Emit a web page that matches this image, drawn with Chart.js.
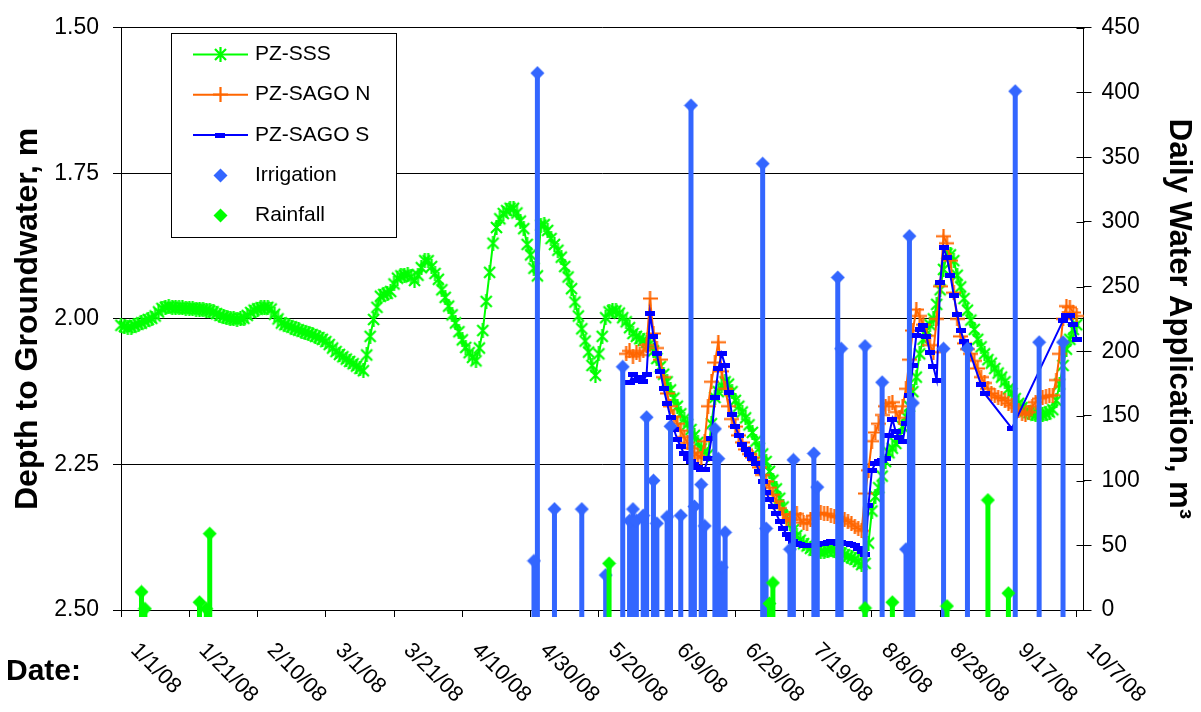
<!DOCTYPE html>
<html>
<head>
<meta charset="utf-8">
<script src="https://cdn.jsdelivr.net/npm/chart.js@4.4.1/dist/chart.umd.min.js"></script>
<style>
html,body{margin:0;padding:0;background:#fff;}
#wrap{width:1201px;height:712px;}
</style>
</head>
<body>
<div id="wrap"><canvas id="c" width="1201" height="712"></canvas></div>
<script>
// ---------------- DATA ----------------
// x values are day numbers counted from 1/1/08 (day 0)
const TICK_DAYS = [0,20,40,60,80,100,120,140,160,180,200,220,240,260,280];
const TICK_LABELS = ['1/1/08','1/21/08','2/10/08','3/1/08','3/21/08','4/10/08','4/30/08','5/20/08','6/9/08','6/29/08','7/19/08','8/8/08','8/28/08','9/17/08','10/7/08'];
const DEPTH_TICKS = [1.50,1.75,2.00,2.25,2.50];
const WATER_TICKS = [0,50,100,150,200,250,300,350,400,450];

// PZ-SSS daily depth (m), first value on day 0
const SSS_START = 0;
const SSS = [
2.011,2.013,2.015,2.014,2.011,2.009,2.007,2.004,2.001,1.999,
1.995,1.988,1.982,1.980,1.979,1.980,1.981,1.981,1.981,1.982,
1.982,1.982,1.983,1.983,1.984,1.985,1.986,1.988,1.991,1.994,
1.996,1.998,1.999,2.000,2.001,2.000,1.999,1.994,1.989,1.985,
1.983,1.981,1.980,1.980,1.983,1.992,2.000,2.007,2.010,2.012,
2.014,2.017,2.019,2.021,2.023,2.025,2.027,2.030,2.032,2.035,
2.039,2.044,2.050,2.056,2.061,2.065,2.069,2.073,2.077,2.081,
2.085,2.089,2.062,2.030,2.001,1.980,1.961,1.958,1.956,1.953,
1.940,1.930,1.926,1.925,1.924,1.928,1.934,1.925,1.912,1.900,
1.900,1.910,1.922,1.932,1.950,1.963,1.978,1.993,2.007,2.022,
2.036,2.049,2.058,2.066,2.072,2.050,2.020,1.970,1.920,1.870,
1.843,1.828,1.819,1.814,1.810,1.810,1.818,1.832,1.845,1.872,
1.890,1.913,1.926,1.839,1.838,1.848,1.862,1.872,1.882,1.894,
1.910,1.928,1.948,1.971,1.995,2.017,2.038,2.057,2.080,2.097,
2.060,2.030,1.998,1.988,1.986,1.986,1.990,1.998,2.005,2.015,
2.025,2.030,2.034,2.037,2.040,2.043,2.055,2.068,2.082,2.095,
2.108,2.122,2.136,2.150,2.163,2.172,2.181,2.190,2.200,2.212,
2.223,2.228,2.233,2.180,2.135,2.125,2.115,2.108,2.112,2.125,
2.140,2.150,2.160,2.170,2.182,2.195,2.210,2.222,2.232,2.245,
2.262,2.277,2.292,2.308,2.323,2.339,2.352,2.362,2.372,2.380,
2.386,2.390,2.394,2.397,2.398,2.400,2.400,2.398,2.396,2.398,
2.400,2.402,2.405,2.408,2.410,2.413,2.417,2.422,2.420,2.385,
2.330,2.305,2.290,2.270,2.245,2.230,2.222,2.214,2.200,2.185,
2.168,2.150,2.125,2.100,2.060,2.035,2.020,2.010,2.000,1.975,
1.950,1.915,1.888,1.890,1.900,1.925,1.945,1.965,1.985,2.002,
2.018,2.035,2.048,2.060,2.070,2.076,2.085,2.093,2.100,2.108,
2.120,2.128,2.137,2.145,2.152,2.158,2.161,2.163,2.165,2.165,
2.165,2.163,2.160,2.156,2.140,2.112,2.080,2.052,2.035,2.018,2.010
];

// PZ-SAGO N daily depth (m), first value on day 148
const SAGO_N_START = 148;
const SAGO_N = [
2.060,2.055,2.065,2.058,2.062,2.055,2.045,1.965,2.025,2.050,
2.070,2.100,2.128,2.150,2.168,2.180,2.192,2.203,2.213,2.222,
2.230,2.235,2.239,2.210,2.150,2.108,2.075,2.040,2.090,2.120,
2.150,2.172,2.185,2.200,2.212,2.224,2.232,2.238,2.244,2.255,
2.268,2.279,2.290,2.302,2.313,2.325,2.336,2.347,2.342,2.336,
2.335,2.345,2.350,2.352,2.345,2.338,2.335,2.333,2.335,2.335,
2.338,2.340,2.340,2.342,2.345,2.348,2.352,2.356,2.360,2.364,
2.300,2.260,2.210,2.195,2.180,2.165,2.150,2.145,2.143,2.160,
2.170,2.150,2.120,2.070,2.020,1.984,1.995,2.010,2.029,2.045,
2.057,2.000,1.944,1.858,1.870,1.900,1.955,2.000,2.030,2.042,
2.052,2.060,2.072,2.085,2.100,2.110,2.120,2.128,2.132,2.135,
2.137,2.140,2.145,2.149,2.153,2.158,2.162,2.165,2.160,2.150,
2.143,2.137,2.135,2.133,2.132,2.131,2.105,2.060,2.000,1.978,
1.980,1.989,1.995
];

// PZ-SAGO S daily depth (m), first value on day 149 (null = no reading)
const SAGO_S_START = 149;
const SAGO_S = [
2.110,2.095,2.105,2.100,2.108,2.095,1.990,2.030,2.060,2.090,
2.120,2.145,2.170,2.190,2.207,2.220,2.232,2.240,2.245,2.250,
2.255,2.258,2.258,2.240,2.205,2.135,2.086,2.060,2.080,2.126,
2.165,2.185,2.200,2.215,2.225,2.233,2.240,2.248,2.262,2.280,
2.298,2.310,2.322,2.335,2.348,2.360,2.370,2.377,2.382,2.385,
2.387,2.389,2.390,2.390,2.390,2.388,2.386,2.385,2.384,2.383,
2.384,2.385,2.384,2.385,2.386,2.388,2.390,2.395,2.400,2.405,
2.320,2.260,2.248,2.245,2.243,2.240,2.200,2.172,2.194,2.203,
2.211,2.180,2.131,2.080,2.029,2.018,2.011,2.030,2.058,2.082,
2.105,1.938,1.878,1.895,1.925,1.960,1.992,2.020,2.038,2.046,
null,null,null,2.113,2.128,null,null,null,null,null,
null,null,2.188,null,null,null,null,null,null,null,
null,null,null,null,null,null,null,2.003,1.995,1.995,
2.009,2.035
];

// Irrigation (m3 per day)
const IRR_DAYS = [121,122,127,135,142,147,149,150,151,153,154,156,157,160,161,164,167,168,170,171,174,175,176,177,188,189,196,197,203,204,210,211,218,223,230,231,232,241,248,262,269,276];
const IRR_M3   = [38,415,78,78,27,188,69,78,69,73,149,100,67,72,142,73,390,80,97,65,140,117,33,60,345,63,47,116,121,95,257,202,204,176,47,289,160,202,202,401,207,207];

// Rainfall (m3 per day)
const RAIN_DAYS = [6,7,23,25,26,143,190,191,218,226,242,254,260];
const RAIN_M3   = [14,1,6,1,59,36,5,21,1.5,6,3,85,13];

// ---------------- STYLE ----------------
const FONT = '"Liberation Sans", Arial, Helvetica, sans-serif';
const C_SSS = '#00FF00', C_N = '#FF6600', C_S = '#0000FF', C_IRR = '#3366FF', C_RAIN = '#00FF00';
const STEM_BASE = -5.5;   // stems run slightly below the axis, as in the original

function marker(kind, color){
  const c = document.createElement('canvas');
  let w, h;
  if (kind === 'star'){ w = h = 15; }
  else if (kind === 'plus'){ w = h = 15; }
  else if (kind === 'dash'){ w = 10; h = 5; }
  else { w = h = 15; }
  c.width = w; c.height = h;
  const g = c.getContext('2d');
  g.strokeStyle = color; g.fillStyle = color;
  if (kind === 'star'){
    g.lineWidth = 2.2; g.beginPath();
    g.moveTo(2,2); g.lineTo(13,13); g.moveTo(13,2); g.lineTo(2,13);
    g.moveTo(7.5,0); g.lineTo(7.5,15); g.stroke();
  } else if (kind === 'plus'){
    g.lineWidth = 2.2; g.beginPath();
    g.moveTo(0,7.5); g.lineTo(15,7.5); g.moveTo(7.5,0); g.lineTo(7.5,15); g.stroke();
  } else if (kind === 'dash'){
    g.fillRect(0,0,w,h);
  } else {
    g.beginPath(); g.moveTo(7.5,0.5); g.lineTo(14.5,7.5); g.lineTo(7.5,14.5); g.lineTo(0.5,7.5); g.closePath(); g.fill();
  }
  return c;
}
const M_STAR = marker('star', C_SSS), M_PLUS = marker('plus', C_N), M_DASH = marker('dash', C_S);
const M_IRR = marker('diamond', C_IRR), M_RAIN = marker('diamond', C_RAIN);

const daily = (start, arr) => arr.map((v,i) => ({x: start + i, y: v}));
const points = (days, vals) => days.map((d,i) => ({x: d, y: vals[i]}));
const stems = (days, vals) => {
  const out = [];
  days.forEach((d,i) => { out.push({x:d, y:STEM_BASE}, {x:d, y:vals[i]}, {x:d, y:null}); });
  return out;
};

const datasets = [
  {label:'Rainfall', data: points(RAIN_DAYS, RAIN_M3), yAxisID:'y2', showLine:false, pointStyle:M_RAIN, pointRadius:7, clip:false},
  {label:'Rainfall stems', data: stems(RAIN_DAYS, RAIN_M3), yAxisID:'y2', borderColor:C_RAIN, borderWidth:5, pointRadius:0, spanGaps:false, clip:false, borderCapStyle:'butt'},
  {label:'Irrigation', data: points(IRR_DAYS, IRR_M3), yAxisID:'y2', showLine:false, pointStyle:M_IRR, pointRadius:7, clip:false},
  {label:'Irrigation stems', data: stems(IRR_DAYS, IRR_M3), yAxisID:'y2', borderColor:C_IRR, borderWidth:5, pointRadius:0, spanGaps:false, clip:false, borderCapStyle:'butt'},
  {label:'PZ-SAGO S', data: daily(SAGO_S_START, SAGO_S), yAxisID:'y', borderColor:C_S, borderWidth:2, pointStyle:M_DASH, pointRadius:4, spanGaps:true, clip:false},
  {label:'PZ-SAGO N', data: daily(SAGO_N_START, SAGO_N), yAxisID:'y', borderColor:C_N, borderWidth:2, pointStyle:M_PLUS, pointRadius:6, clip:false},
  {label:'PZ-SSS', data: daily(SSS_START, SSS), yAxisID:'y', borderColor:C_SSS, borderWidth:2, pointStyle:M_STAR, pointRadius:6, clip:false}
];

const LEGEND = [
  {label:'PZ-SSS', color:C_SSS, line:true, img:M_STAR},
  {label:'PZ-SAGO N', color:C_N, line:true, img:M_PLUS},
  {label:'PZ-SAGO S', color:C_S, line:true, img:M_DASH},
  {label:'Irrigation', color:C_IRR, line:false, img:M_IRR},
  {label:'Rainfall', color:C_RAIN, line:false, img:M_RAIN}
];

const decor = {
  id: 'decor',
  beforeDraw(chart){
    const ctx = chart.ctx;
    ctx.save(); ctx.fillStyle = '#fff'; ctx.fillRect(0,0,chart.width,chart.height); ctx.restore();
  },
  afterDraw(chart){
    const {ctx, chartArea, scales} = chart;
    ctx.save();
    // rotated date labels
    ctx.fillStyle = '#000';
    ctx.font = '22px ' + FONT;
    ctx.textAlign = 'left'; ctx.textBaseline = 'middle';
    TICK_DAYS.forEach((d,i) => {
      const px = scales.x.getPixelForValue(d);
      ctx.save(); ctx.translate(px + 13, 647); ctx.rotate(Math.PI/4);
      ctx.fillText(TICK_LABELS[i], 0, 0); ctx.restore();
    });
    // "Date:" label
    ctx.font = 'bold 30px ' + FONT; ctx.textBaseline = 'alphabetic';
    ctx.fillText('Date:', 6, 680);
    // inner tick marks of right axis
    ctx.strokeStyle = '#000'; ctx.lineWidth = 1;
    const xr = Math.round(chartArea.right) + 0.5;
    WATER_TICKS.forEach(v => {
      const py = Math.round(scales.y2.getPixelForValue(v)) + 0.5;
      ctx.beginPath(); ctx.moveTo(xr - 8, py); ctx.lineTo(xr, py); ctx.stroke();
    });
    // legend
    ctx.fillStyle = '#fff'; ctx.fillRect(171, 33, 225, 204);
    ctx.strokeStyle = '#000'; ctx.lineWidth = 1; ctx.strokeRect(171.5, 33.5, 225, 204);
    ctx.font = '21px ' + FONT; ctx.textBaseline = 'alphabetic'; ctx.textAlign = 'left';
    LEGEND.forEach((e,i) => {
      const base = 60 + i * 40.25;
      const my = base - 5.5;
      if (e.line){
        ctx.strokeStyle = e.color; ctx.lineWidth = 2;
        ctx.beginPath(); ctx.moveTo(193, my); ctx.lineTo(248, my); ctx.stroke();
      }
      ctx.drawImage(e.img, Math.round(220 - e.img.width/2), Math.round(my - e.img.height/2));
      ctx.fillStyle = '#000'; ctx.fillText(e.label, 255, base);
    });
    ctx.restore();
  }
};

Chart.defaults.font.family = FONT;
Chart.defaults.color = '#000';

new Chart(document.getElementById('c').getContext('2d'), {
  type: 'line',
  data: { datasets },
  options: {
    responsive: false,
    animation: false,
    devicePixelRatio: 1,
    layout: { padding: { top: 23, left: 0, right: 0, bottom: 0 } },
    plugins: { legend: { display: false }, tooltip: { enabled: false } },
    elements: { line: { tension: 0 } },
    scales: {
      x: {
        type: 'linear', min: 0, max: 282,
        afterBuildTicks: s => { s.ticks = TICK_DAYS.map(v => ({value: v})); },
        afterFit: s => { s.height = 102; },
        ticks: { display: false },
        grid: { drawOnChartArea: false, tickLength: 7, color: '#000', lineWidth: 1 },
        border: { color: '#000', width: 1 }
      },
      y: {
        position: 'left', reverse: true, min: 1.5, max: 2.5,
        afterBuildTicks: s => { s.ticks = DEPTH_TICKS.map(v => ({value: v})); },
        afterFit: s => { s.width = 121; },
        ticks: { callback: v => Number(v).toFixed(2), font: { size: 23 }, color: '#000', padding: 14 },
        grid: { color: '#000', tickLength: 8, lineWidth: 1 },
        border: { color: '#000', width: 1 },
        title: { display: true, text: 'Depth to Groundwater, m', font: { size: 32, weight: 'bold' }, color: '#000', padding: { top: 9, bottom: 0 } }
      },
      y2: {
        position: 'right', min: 0, max: 450,
        afterBuildTicks: s => { s.ticks = WATER_TICKS.map(v => ({value: v})); },
        afterFit: s => { s.width = 117.5; },
        ticks: { font: { size: 23 }, color: '#000', padding: 10 },
        grid: { drawOnChartArea: false, tickLength: 8, color: '#000', lineWidth: 1 },
        border: { color: '#000', width: 1 },
        title: { display: true, text: 'Daily Water Application, m³', font: { size: 31, weight: 'bold' }, color: '#000', padding: { top: 4, bottom: 0 } }
      }
    }
  },
  plugins: [decor]
});
</script>
</body>
</html>
